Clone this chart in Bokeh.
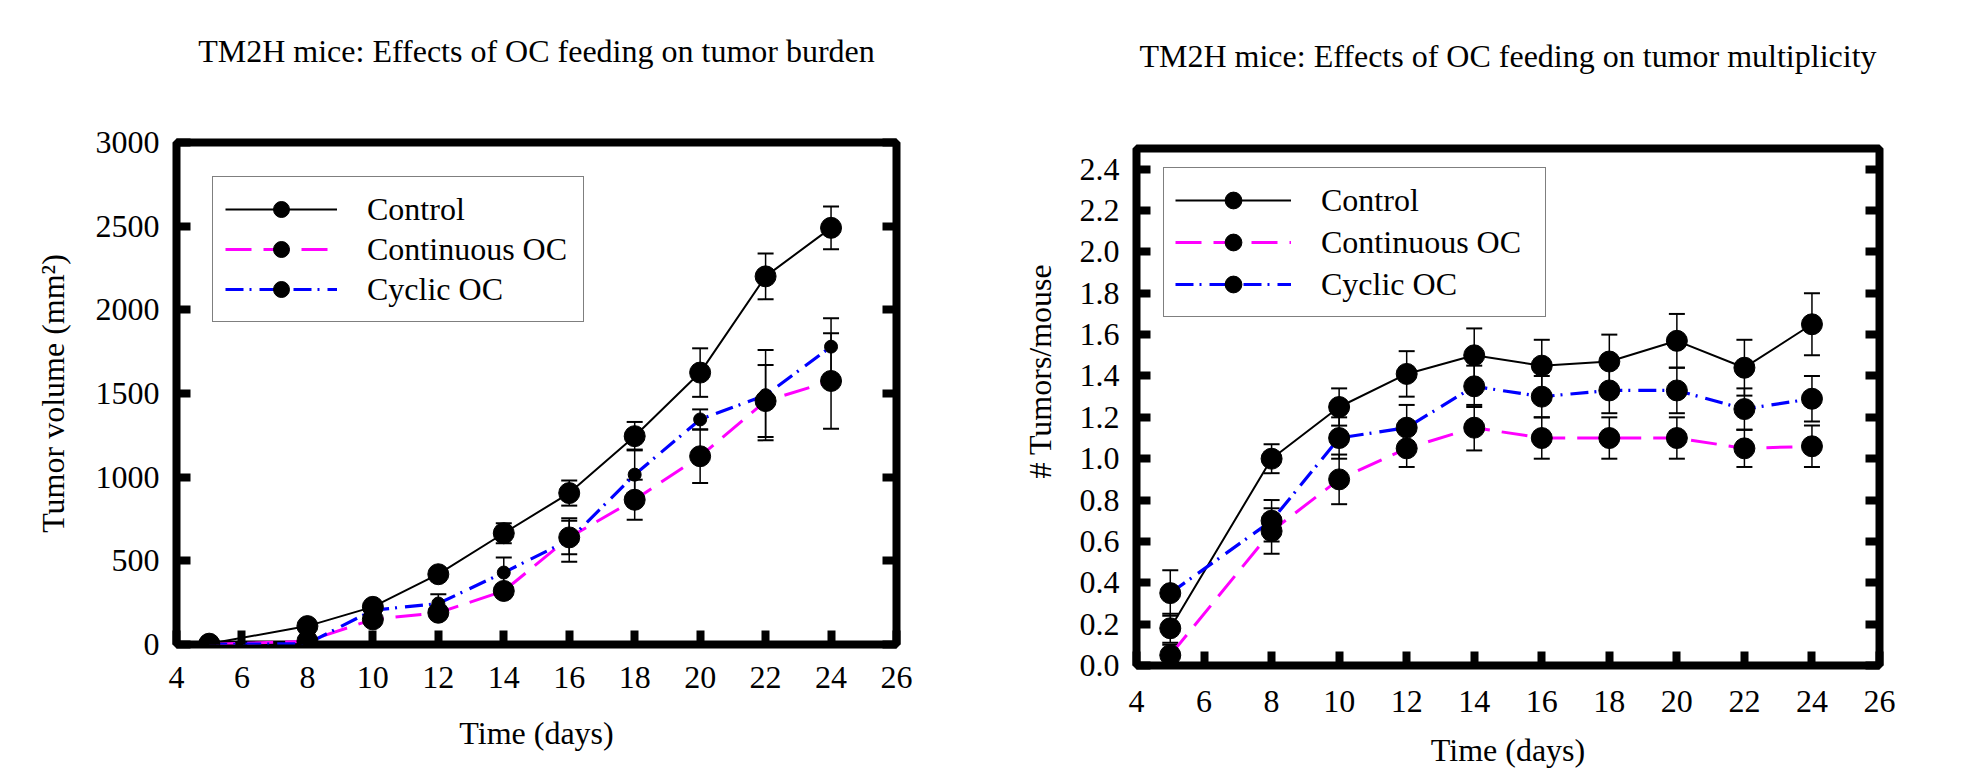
from bokeh.plotting import figure
from bokeh.models import (Range1d, FixedTicker, LinearAxis, Legend, LegendItem, Whisker, TeeHead,
                          ColumnDataSource, Title, NumeralTickFormatter, CustomJSTickFormatter)
from bokeh.layouts import row
from bokeh.embed import file_html
from bokeh.resources import INLINE

FONT = "Liberation Serif"
FS = "32px"

# ---------------- data ----------------
days = [5, 8, 10, 12, 14, 16, 18, 20, 22, 24]
series_names = ["Control", "Continuous OC", "Cyclic OC"]

# Left panel: tumor volume (mm^2)
vol_control = [5, 110, 225, 420, 665, 905, 1245, 1625, 2200, 2490]
vol_control_err = [5, 15, 20, 25, 60, 75, 85, 145, 137, 128]
vol_continuous = [0, 20, 150, 190, 320, 640, 865, 1125, 1455, 1575]
vol_continuous_err = [0, 10, 20, 30, 35, 100, 120, 160, 215, 285]
vol_cyclic = [0, 5, 205, 245, 430, 625, 1015, 1345, 1490, 1780]
vol_cyclic_err = [0, 5, 20, 55, 90, 130, 150, 60, 270, 170]

# Right panel: tumors / mouse
mult_control = [0.18, 1.00, 1.25, 1.41, 1.50, 1.45, 1.47, 1.57, 1.44, 1.65]
mult_control_err = [0.07, 0.07, 0.09, 0.11, 0.13, 0.125, 0.13, 0.13, 0.135, 0.15]
mult_continuous = [0.05, 0.65, 0.90, 1.05, 1.15, 1.10, 1.10, 1.10, 1.05, 1.06]
mult_continuous_err = [0.05, 0.11, 0.12, 0.09, 0.11, 0.10, 0.10, 0.10, 0.09, 0.10]
mult_cyclic = [0.35, 0.70, 1.10, 1.15, 1.35, 1.30, 1.33, 1.33, 1.24, 1.29]
mult_cyclic_err = [0.11, 0.10, 0.10, 0.11, 0.10, 0.10, 0.11, 0.11, 0.10, 0.11]

x_ticks = [4, 6, 8, 10, 12, 14, 16, 18, 20, 22, 24, 26]
vol_ticks = [0, 500, 1000, 1500, 2000, 2500, 3000]
mult_ticks = [0.0, 0.2, 0.4, 0.6, 0.8, 1.0, 1.2, 1.4, 1.6, 1.8, 2.0, 2.2, 2.4]

title_left = "TM2H mice: Effects of OC feeding on tumor burden"
title_right = "TM2H mice: Effects of OC feeding on tumor multiplicity"
xlabel = "Time (days)"
ylabel_left = "Tumor volume (mm\u00b2)"
ylabel_right = "# Tumors/mouse"

styles = [
    dict(color="black", dash="solid", width=2),
    dict(color="#ff00ff", dash="26 12", width=3),
    dict(color="#0000ff", dash="18 6 2 8", width=3.2),
]


def style_axis(ax, standoff):
    ax.major_tick_in = 14
    ax.major_tick_out = 0
    ax.major_tick_line_width = 8
    ax.major_tick_line_color = "black"
    ax.minor_tick_line_color = None
    ax.minor_tick_in = 0
    ax.minor_tick_out = 0
    ax.axis_line_color = None
    ax.major_label_text_font = FONT
    ax.major_label_text_font_size = FS
    ax.major_label_text_color = "black"
    ax.major_label_standoff = standoff
    ax.axis_label_text_font = FONT
    ax.axis_label_text_font_size = FS
    ax.axis_label_text_font_style = "normal"
    ax.axis_label_text_color = "black"


def make_fig(width, height, yr, yticks, borders, title, title_gap, xstand, ystand):
    bl, br, bt, bb = borders
    p = figure(width=width, height=height, x_range=Range1d(4, 26), y_range=Range1d(*yr),
               output_backend="svg", toolbar_location=None,
               min_border_left=bl, min_border_right=br, min_border_top=bt, min_border_bottom=bb)
    if "frame_align" in p.properties():
        p.frame_align = False
    p.grid.visible = False
    p.outline_line_color = "black"
    p.outline_line_width = 8
    p.outline_line_alpha = 1.0
    p.background_fill_color = "white"
    p.border_fill_color = "white"
    xax = p.below[0]
    yax = p.left[0]
    xax.ticker = FixedTicker(ticks=x_ticks)
    yax.ticker = FixedTicker(ticks=yticks)
    style_axis(xax, xstand)
    style_axis(yax, ystand)
    rax = LinearAxis(ticker=FixedTicker(ticks=yticks),
                     formatter=CustomJSTickFormatter(code="return ''"))
    style_axis(rax, 0)
    p.add_layout(rax, "right")
    # top axis without ticks: carries the chart title as its label
    tax = LinearAxis(ticker=FixedTicker(ticks=[]),
                     formatter=CustomJSTickFormatter(code="return ''"))
    style_axis(tax, 0)
    tax.major_tick_in = 0
    tax.major_tick_line_color = None
    tax.major_label_text_font_size = "1px"
    tax.axis_label = title
    tax.axis_label_standoff = title_gap
    p.add_layout(tax, "above")
    p.title.text = ""
    return p, xax, yax


def add_series(p, ys, errs, sizes):
    items = []
    for name, y, e, st, sz in zip(series_names, ys, errs, styles, sizes):
        src = ColumnDataSource(dict(x=days, y=y,
                                    upper=[a + b for a, b in zip(y, e)],
                                    lower=[a - b for a, b in zip(y, e)]))
        ln = p.line("x", "y", source=src, line_color=st["color"], line_width=st["width"],
                    line_dash=st["dash"])
        w = Whisker(base="x", upper="upper", lower="lower", source=src,
                    line_color="black", line_width=1.5,
                    upper_head=TeeHead(size=16, line_width=2, line_color="black"),
                    lower_head=TeeHead(size=16, line_width=2, line_color="black"))
        p.add_layout(w)
        items.append((name, ln, src, sz))
    out = []
    for name, ln, src, sz in items:
        sc = p.scatter("x", "y", source=src, size=sz, marker="circle",
                       fill_color="black", line_color="black")
        out.append(LegendItem(label=name, renderers=[ln, sc]))
    return out


def add_legend(p, items, loc, gw, ih, pad, lw):
    lg = Legend(items=items, location=loc, glyph_width=gw, glyph_height=ih, label_height=ih,
                label_width=lw, label_standoff=30, padding=pad, spacing=0, margin=0,
                border_line_color="black", border_line_width=1.5,
                background_fill_color="white", background_fill_alpha=1.0,
                label_text_font=FONT, label_text_font_size=FS, label_text_color="black")
    p.add_layout(lg)


# ---------------- left panel ----------------
p1, x1, y1 = make_fig(936, 770, (0, 3000), vol_ticks, (176, 40, 142, 126), title_left, 74, 22, 17)
x1.axis_label = xlabel
x1.axis_label_standoff = 24
y1.axis_label = ylabel_left
y1.axis_label_standoff = 22
items1 = add_series(p1, [vol_control, vol_continuous, vol_cyclic],
                    [vol_control_err, vol_continuous_err, vol_cyclic_err], [21, 21, 13])
add_legend(p1, items1, (36, 322), 112, 40, 12, 204)

# ---------------- right panel ----------------
p2, x2, y2 = make_fig(1033, 770, (0, 2.5), mult_ticks, (200, 90, 148, 103), title_right, 75, 25, 17)
y2.formatter = NumeralTickFormatter(format="0.0")
x2.axis_label = xlabel
x2.axis_label_standoff = 17
ytitle = Title(text=ylabel_right, align="left", offset=187, standoff=38, vertical_align="bottom",
               text_font=FONT, text_font_size=FS, text_font_style="normal", text_color="black")
p2.add_layout(ytitle, "left")
items2 = add_series(p2, [mult_control, mult_continuous, mult_cyclic],
                    [mult_control_err, mult_continuous_err, mult_cyclic_err], [21, 21, 21])
add_legend(p2, items2, (27, 348), 116, 42, 11, 213)

layout = row(p1, p2)
open("out.html", "w").write(file_html(layout, INLINE))
